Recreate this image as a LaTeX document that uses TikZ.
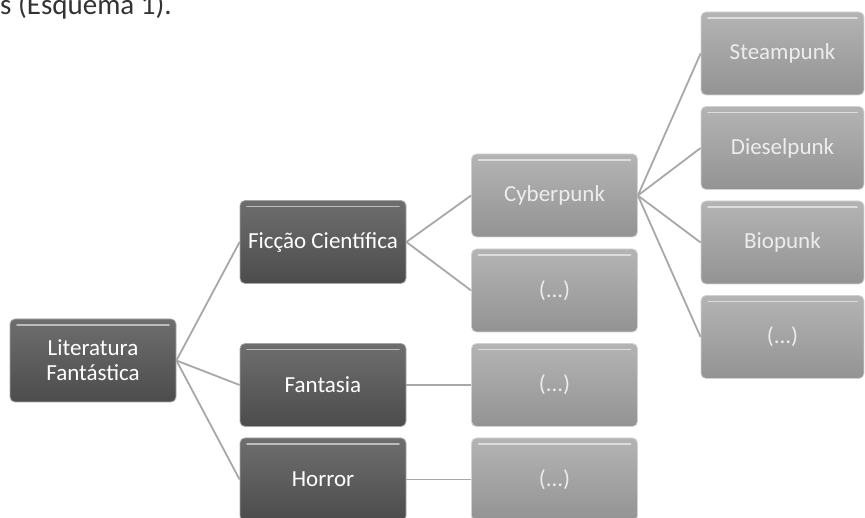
\documentclass[tikz,border=0pt]{standalone}
\usepackage{fontspec}
\setmainfont{Carlito}
\begin{document}
\begin{tikzpicture}[x=1pt,y=-1pt,
  box/.style={rounded corners=5pt, minimum width=166pt, minimum height=83pt, inner sep=0pt,
    align=center, font=\fontsize{23}{25}\selectfont,
    path picture={\draw[white,opacity=0.55,line width=1.6pt,line cap=round]
      ([shift={(7pt,-6pt)}]path picture bounding box.north west) --
      ([shift={(-7pt,-6pt)}]path picture bounding box.north east);}},
  darkbox/.style={box, draw=gray!70, line width=0.8pt, top color=darkA, bottom color=darkB, text=white},
  lightbox/.style={box, draw=gray!35, line width=0.8pt, top color=lightA, bottom color=lightB, text=white!93!black},
  conn/.style={draw=connC, line width=1.8pt}
]
\definecolor{darkA}{HTML}{6E6E6E}
\definecolor{darkB}{HTML}{4C4C4C}
\definecolor{lightA}{HTML}{B4B4B4}
\definecolor{lightB}{HTML}{939393}
\definecolor{connC}{HTML}{A8A8A8}
\definecolor{txtC}{HTML}{333333}
\clip (0,0) rectangle (865,518);

\node[anchor=base west, inner sep=0pt, text=txtC, font=\fontsize{29}{33}\selectfont] (cap) at (0,15) {s (Esquema 1).};

\node[darkbox] (lit) at (93,360.5) {Literatura\\Fantástica};
\node[darkbox] (fic) at (323,242) {Ficção Científica};
\node[darkbox] (fan) at (323,385) {Fantasia};
\node[darkbox] (hor) at (323,479.5) {Horror};

\node[lightbox] (cyb) at (554.5,195.5) {Cyberpunk};
\node[lightbox] (fic2) at (554.5,290.5) {(...)};
\node[lightbox] (fan2) at (554.5,385) {(...)};
\node[lightbox] (hor2) at (554.5,479.5) {(...)};

\node[lightbox, minimum width=163pt] (ste) at (782.5,53.5) {Steampunk};
\node[lightbox, minimum width=163pt] (die) at (782.5,148) {Dieselpunk};
\node[lightbox, minimum width=163pt] (bio) at (782.5,242.5) {Biopunk};
\node[lightbox, minimum width=163pt] (cy2) at (782.5,337) {(...)};

\draw[conn] (lit.east) -- (fic.west);
\draw[conn] (lit.east) -- (fan.west);
\draw[conn] (lit.east) -- (hor.west);
\draw[conn] (fic.east) -- (cyb.west);
\draw[conn] (fic.east) -- (fic2.west);
\draw[conn] (fan.east) -- (fan2.west);
\draw[conn] (hor.east) -- (hor2.west);
\draw[conn] (cyb.east) -- (ste.west);
\draw[conn] (cyb.east) -- (die.west);
\draw[conn] (cyb.east) -- (bio.west);
\draw[conn] (cyb.east) -- (cy2.west);
\end{tikzpicture}
\end{document}
